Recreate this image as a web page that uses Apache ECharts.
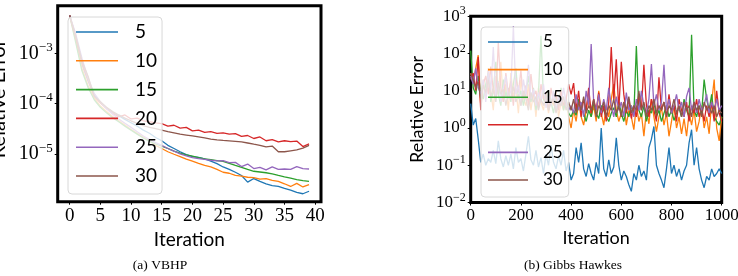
<!DOCTYPE html>
<html>
<head>
<meta charset="utf-8">
<script src="https://cdn.jsdelivr.net/npm/echarts@6/dist/echarts.min.js"></script>
<style>
  html, body { margin: 0; padding: 0; background: #fff; }
  #chart { width: 738px; height: 276px; }
</style>
</head>
<body>
<div id="chart"></div>
<script>
// legend names + matplotlib default colours
const NAMES = ['5', '10', '15', '20', '25', '30']
const COLORS = ['#1f77b4', '#ff7f0e', '#2ca02c', '#d62728', '#9467bd', '#8c564b']

// (a) VBHP : relative error per iteration
const VB_ITER = [0, 1, 2, 3, 4, 5, 6, 7, 8, 9, 10, 11, 12, 13, 14, 15, 16, 17, 18, 19,
  20, 21, 22, 23, 24, 25, 26, 27, 28, 29, 30, 31, 32, 33, 34, 35, 36, 37, 38, 39]
const vb5 = [5.6e-3, 2.1e-3, 6.0e-4, 2.8e-4, 1.5e-4, 1.05e-4, 8.2e-5, 6.8e-5, 5.8e-5, 4.9e-5,
  4.2e-5, 3.6e-5, 3.0e-5, 2.6e-5, 2.15e-5, 1.85e-5, 1.5e-5, 1.3e-5, 1.12e-5, 9.8e-6,
  9.0e-6, 8.7e-6, 8.1e-6, 7.3e-6, 6.5e-6, 5.6e-6, 5.0e-6, 4.4e-6, 3.8e-6, 2.8e-6,
  3.3e-6, 2.9e-6, 2.6e-6, 2.4e-6, 2.3e-6, 2.1e-6, 1.95e-6, 1.75e-6, 1.65e-6, 1.85e-6]
const vb10 = [5.6e-3, 1.8e-3, 5.0e-4, 2.3e-4, 1.3e-4, 9.0e-5, 7.0e-5, 5.6e-5, 4.6e-5, 3.8e-5,
  3.1e-5, 2.6e-5, 2.2e-5, 1.85e-5, 1.5e-5, 1.3e-5, 1.12e-5, 1.0e-5, 9.0e-6, 8.0e-6,
  7.3e-6, 6.6e-6, 6.0e-6, 5.6e-6, 5.0e-6, 4.4e-6, 4.2e-6, 3.8e-6, 3.7e-6, 3.5e-6,
  3.45e-6, 3.2e-6, 3.3e-6, 3.05e-6, 2.9e-6, 2.6e-6, 2.3e-6, 2.65e-6, 2.25e-6, 2.5e-6]
const vb15 = [5.6e-3, 1.6e-3, 4.5e-4, 2.1e-4, 1.2e-4, 8.5e-5, 6.6e-5, 5.3e-5, 4.4e-5, 3.6e-5,
  3.0e-5, 2.5e-5, 2.1e-5, 1.8e-5, 1.6e-5, 1.45e-5, 1.3e-5, 1.15e-5, 1.05e-5, 9.7e-6,
  9.2e-6, 8.6e-6, 8.1e-6, 7.8e-6, 7.5e-6, 7.2e-6, 6.6e-6, 6.0e-6, 5.5e-6, 5.0e-6,
  4.6e-6, 4.45e-6, 4.3e-6, 4.1e-6, 3.8e-6, 3.55e-6, 3.35e-6, 3.15e-6, 3.0e-6, 2.9e-6]
const vb20 = [5.6e-3, 2.0e-3, 6.5e-4, 3.0e-4, 1.4e-4, 1.05e-4, 8.0e-5, 6.5e-5, 5.5e-5, 6.0e-5,
  5.0e-5, 5.2e-5, 4.6e-5, 4.4e-5, 4.2e-5, 4.05e-5, 3.6e-5, 3.75e-5, 3.3e-5, 3.4e-5,
  2.9e-5, 3.0e-5, 2.7e-5, 2.8e-5, 2.6e-5, 2.65e-5, 2.5e-5, 2.55e-5, 2.25e-5, 2.35e-5,
  2.05e-5, 2.2e-5, 1.85e-5, 1.95e-5, 1.75e-5, 1.85e-5, 1.78e-5, 1.82e-5, 1.42e-5, 1.6e-5]
const vb25 = [5.6e-3, 2.4e-3, 8.0e-4, 3.2e-4, 1.6e-4, 1.1e-4, 8.0e-5, 6.2e-5, 5.0e-5, 4.1e-5,
  3.4e-5, 2.8e-5, 2.3e-5, 1.95e-5, 1.7e-5, 1.5e-5, 1.3e-5, 1.15e-5, 1.02e-5, 9.3e-6,
  8.6e-6, 8.2e-6, 7.9e-6, 7.6e-6, 7.4e-6, 7.5e-6, 6.8e-6, 6.9e-6, 5.7e-6, 6.4e-6,
  5.2e-6, 5.5e-6, 4.9e-6, 5.6e-6, 5.0e-6, 5.1e-6, 5.0e-6, 5.7e-6, 5.2e-6, 5.1e-6]
const vb30 = [5.6e-3, 2.2e-3, 7.0e-4, 3.5e-4, 1.4e-4, 1.1e-4, 8.5e-5, 7.0e-5, 6.0e-5, 5.2e-5,
  4.6e-5, 4.1e-5, 3.7e-5, 3.4e-5, 3.2e-5, 3.0e-5, 2.8e-5, 2.65e-5, 2.5e-5, 2.4e-5,
  2.3e-5, 2.2e-5, 2.1e-5, 2.0e-5, 1.93e-5, 1.88e-5, 1.84e-5, 1.8e-5, 1.75e-5, 1.67e-5,
  1.58e-5, 1.5e-5, 1.4e-5, 1.45e-5, 1.12e-5, 1.12e-5, 1.17e-5, 1.22e-5, 1.32e-5, 1.5e-5]
const VB_SERIES = [vb5, vb10, vb15, vb20, vb25, vb30]

// (b) Gibbs Hawkes : relative error, sampled every 10 iterations
const GH_ITER = [0, 10, 20, 30, 40, 50, 60, 70, 80, 90,
  100, 110, 120, 130, 140, 150, 160, 170, 180, 190,
  200, 210, 220, 230, 240, 250, 260, 270, 280, 290,
  300, 310, 320, 330, 340, 350, 360, 370, 380, 390,
  400, 410, 420, 430, 440, 450, 460, 470, 480, 490,
  500, 510, 520, 530, 540, 550, 560, 570, 580, 590,
  600, 610, 620, 630, 640, 650, 660, 670, 680, 690,
  700, 710, 720, 730, 740, 750, 760, 770, 780, 790,
  800, 810, 820, 830, 840, 850, 860, 870, 880, 890,
  900, 910, 920, 930, 940, 950, 960, 970, 980, 990, 1000]
const gh5 = [4.5, 1.2, 1.8, 0.5, 0.12, 0.2, 0.1, 0.15, 0.12, 0.25,
  0.11, 0.45, 0.15, 0.09, 0.18, 0.1, 0.2, 0.08, 0.3, 0.12,
  0.15, 0.07, 0.2, 0.6, 0.14, 0.1, 0.25, 0.09, 0.16, 0.06,
  0.2, 0.1, 0.35, 0.12, 0.08, 0.18, 0.1, 0.25, 0.07, 0.12,
  0.04, 0.06, 0.3, 0.12, 0.4, 0.08, 0.05, 0.11, 0.06, 0.04,
  0.12, 0.06, 1.0, 0.08, 0.05, 0.14, 0.06, 0.09, 0.55, 0.1,
  0.04, 0.07, 0.05, 0.03, 0.02, 0.06, 0.04, 0.1, 0.05, 0.07,
  0.04, 0.3, 0.5, 1.1, 0.1, 0.06, 0.04, 0.025, 0.08, 0.3,
  0.06, 0.1, 0.05, 0.08, 0.04, 0.07, 0.1, 0.4, 0.9, 0.1,
  0.3, 0.08, 0.04, 0.025, 0.05, 0.04, 0.08, 0.05, 0.06, 0.08, 0.06]
const gh10 = [30, 15, 40, 90, 4, 20, 6, 40, 10, 3,
  25, 8, 60, 5, 15, 3, 30, 7, 12, 2.5,
  20, 6, 4, 15, 3, 9, 2, 12, 5, 3,
  8, 2.5, 6, 4, 10, 2, 5, 3, 7, 2,
  1.0, 3, 1.5, 5, 2, 1.2, 3, 8, 2, 4,
  1.5, 10, 2.5, 1.2, 4, 2, 6, 15, 3, 1.5,
  2.5, 5, 1.2, 3, 2, 0.9, 4, 1.5, 2.5, 0.6,
  3, 1.3, 6, 2, 0.8, 2, 3.5, 1.2, 2.5, 0.6,
  1.5, 4, 1, 2, 0.7, 1.8, 0.6, 2.5, 1.2, 3,
  0.8, 1.5, 4, 1, 2, 0.7, 5, 20, 1, 0.45, 2]
const gh15 = [120, 12, 8, 25, 10, 6, 15, 30, 5, 10,
  60, 8, 4, 20, 7, 12, 5, 15, 40, 6,
  10, 4, 9, 25, 5, 12, 3, 8, 300, 6,
  4, 10, 5, 2.5, 7, 4, 12, 3, 6, 2.5,
  2, 3, 2.2, 6, 4, 2.5, 1.5, 3, 2, 5,
  2.5, 1.8, 4, 3, 2, 1.5, 2.5, 3.5, 2, 5,
  2.5, 1.5, 3, 2, 4, 2.2, 160, 3, 2, 4,
  1.5, 3, 2.5, 5, 2, 3, 1.5, 2.5, 4, 2,
  3, 1.6, 2.5, 3.5, 2, 6, 3, 2, 320, 3,
  2, 4, 2.5, 20, 6, 3, 8, 2, 1.5, 1.2, 2]
const gh20 = [20, 30, 10, 80, 3, 15, 25, 8, 45, 10,
  6, 200, 12, 5, 30, 8, 18, 4, 22, 9,
  35, 6, 14, 4, 28, 7, 10, 3.5, 15, 6,
  9, 3, 12, 5, 8, 3, 10, 4, 6, 15,
  8, 16, 3, 10, 2, 6, 3, 12, 2.5, 6,
  3, 9, 2, 4, 1.5, 5, 150, 6, 70, 3,
  60, 8, 2.5, 6, 1.8, 4, 2, 7, 3, 50,
  4, 2, 6, 3, 1.5, 23, 3, 5, 2, 8,
  2.5, 4, 1.5, 6, 3, 2, 5, 1.5, 4, 2.5,
  6, 2, 3.5, 1.5, 4, 2, 5, 1.5, 10, 2.5, 1.5]
const gh25 = [25, 15, 40, 12, 8, 20, 5, 35, 10, 150,
  7, 18, 5, 12, 25, 6, 10, 550, 8, 14,
  4, 20, 8, 50, 6, 11, 4, 9, 5, 15,
  3.5, 8, 4, 10, 3, 7, 4, 12, 5, 3,
  4, 2.5, 8, 3, 5, 2, 10, 4, 180, 5,
  3, 8, 2.5, 6, 3, 12, 4, 2, 7, 3,
  5, 2, 9, 3, 4, 2, 6, 3, 10, 4,
  2.5, 6, 52, 4, 8, 3, 5, 50, 3, 6,
  2.5, 4, 8, 3, 5, 2, 7, 12, 3, 5,
  2.5, 6, 3, 4, 8, 2.5, 5, 3, 6, 3, 4]
const gh30 = [30, 20, 12, 18, 6, 14, 9, 20, 7, 12,
  5, 16, 8, 11, 4, 9, 6, 13, 5, 8,
  4, 10, 6, 3, 9, 5, 7, 3, 6, 4,
  8, 3, 5, 6, 2.5, 5, 4, 7, 3, 5,
  3, 6, 2.5, 5, 3, 7, 2.5, 4, 3, 6,
  2, 4, 3, 5, 2, 4, 3, 6, 2.5, 4,
  2, 5, 3, 7, 2.5, 4, 3, 10, 3, 5,
  2, 4, 3, 6, 2.5, 4, 3, 5, 2, 4,
  3, 6, 2.5, 4, 2, 5, 3, 4, 2, 5,
  3, 4, 2, 5, 3, 4, 2.5, 4, 2, 3, 2.5]
const GH_SERIES = [gh5, gh10, gh15, gh20, gh25, gh30]

// tick positions (log10 exponents for the y axes)
const VB_XTICKS = [0, 5, 10, 15, 20, 25, 30, 35, 40]
const VB_YTICKS = [-5, -4, -3]

const SERIF = '"Liberation Serif", "Times New Roman", serif'
const SANS = 'Lato, sans-serif'

// 10^n label with superscript exponent
function pow10(v) {
  const n = Math.round(v)
  return '{b|10}{s|' + (n < 0 ? '\u2212' + (-n) : n) + '}'
}
function powRich(base, sup) {
  return {
    b: { fontFamily: SERIF, fontSize: base, color: '#000' },
    s: { fontFamily: SERIF, fontSize: sup, color: '#000', padding: [0, 0, Math.round(base * 0.6), 0] },
  }
}
// plain serif number labels (rich so the serif face is used)
function num(v) { return '{n|' + Math.round(v) + '}' }
function numRich(size) {
  return { n: { fontFamily: SERIF, fontSize: size, color: '#000' } }
}

function buildSeries(iters, list, axis) {
  return list.map((vals, k) => ({
    name: NAMES[k],
    type: 'line',
    xAxisIndex: axis,
    yAxisIndex: axis,
    symbol: 'none',
    silent: true,
    color: COLORS[k],
    lineStyle: { width: 1.3, color: COLORS[k] },
    data: iters.map((x, i) => [x, Math.log10(vals[i])]),
  }))
}

const chart = echarts.init(document.getElementById('chart'))

chart.setOption({
  animation: false,
  grid: [
    { left: 57.7, top: 5.8, width: 263.3, height: 195.9, outerBoundsMode: 'none', show: true, borderColor: '#000', borderWidth: 3, backgroundColor: 'transparent' },
    { left: 470.7, top: 16.3, width: 251, height: 186.2, outerBoundsMode: 'none', show: true, borderColor: '#000', borderWidth: 3, backgroundColor: 'transparent' },
  ],
  xAxis: [
    {
      type: 'value', gridIndex: 0, min: -1.95, max: 40.95,
      name: 'Iteration', nameLocation: 'middle', nameGap: 25,
      nameTextStyle: { fontFamily: SANS, fontSize: 19, color: '#000' },
      axisLine: { show: false, onZero: false },
      axisTick: { show: true, customValues: VB_XTICKS, length: 3, lineStyle: { color: '#000' } },
      axisLabel: { customValues: VB_XTICKS, formatter: num, rich: numRich(19), margin: 5 },
      splitLine: { show: false },
    },
    {
      type: 'value', gridIndex: 1, min: 0, max: 1000, interval: 200,
      name: 'Iteration', nameLocation: 'middle', nameGap: 24,
      nameTextStyle: { fontFamily: SANS, fontSize: 18, color: '#000' },
      axisLine: { show: false, onZero: false },
      axisTick: { show: true, length: 3, lineStyle: { color: '#000' } },
      axisLabel: { formatter: num, rich: numRich(17), margin: 5 },
      splitLine: { show: false },
    },
  ],
  yAxis: [
    {
      type: 'value', gridIndex: 0, min: -5.94, max: -2.06,
      name: 'Relative Error', nameLocation: 'middle', nameGap: 49,
      nameTextStyle: { fontFamily: SANS, fontSize: 20, color: '#000', padding: [0, 0, 0, 10] },
      axisLine: { show: false, onZero: false },
      axisTick: { show: true, customValues: VB_YTICKS, length: 3, lineStyle: { color: '#000' } },
      axisLabel: { customValues: VB_YTICKS, formatter: pow10, rich: powRich(20, 13), margin: 5 },
      splitLine: { show: false },
    },
    {
      type: 'value', gridIndex: 1, min: -2, max: 3, interval: 1,
      name: 'Relative Error', nameLocation: 'middle', nameGap: 45,
      nameTextStyle: { fontFamily: SANS, fontSize: 18, color: '#000' },
      axisLine: { show: false, onZero: false },
      axisTick: { show: true, length: 3, lineStyle: { color: '#000' } },
      axisLabel: { formatter: pow10, rich: powRich(17, 12), margin: 5 },
      splitLine: { show: false },
    },
  ],
  legend: [
    {
      data: NAMES, orient: 'vertical', left: 68, top: 17,
      icon: 'rect', itemWidth: 42, itemHeight: 1.6, itemGap: 8.8,
      padding: [5, 5, 8, 8],
      backgroundColor: 'rgba(255,255,255,0.8)', borderColor: '#d8d8d8', borderWidth: 1, borderRadius: 4,
      selectedMode: false,
      textStyle: { fontFamily: SANS, fontSize: 19, lineHeight: 20, color: '#000', padding: [0, 0, 0, 12] },
    },
    {
      data: NAMES, orient: 'vertical', left: 481, top: 27,
      icon: 'rect', itemWidth: 40, itemHeight: 1.6, itemGap: 7.6,
      padding: [5, 6, 7, 7],
      backgroundColor: 'rgba(255,255,255,0.8)', borderColor: '#d8d8d8', borderWidth: 1, borderRadius: 4,
      selectedMode: false,
      textStyle: { fontFamily: SANS, fontSize: 17, lineHeight: 20, color: '#000', padding: [0, 0, 0, 10] },
    },
  ],
  graphic: [
    { type: 'text', x: 160, y: 265, style: { text: '(a) VBHP', font: '13.5px "Liberation Serif"', fill: '#000', align: 'center', verticalAlign: 'middle' } },
    { type: 'text', x: 573, y: 265, style: { text: '(b) Gibbs Hawkes', font: '13.5px "Liberation Serif"', fill: '#000', align: 'center', verticalAlign: 'middle' } },
  ],
  series: [
    ...buildSeries(VB_ITER, VB_SERIES, 0),
    ...buildSeries(GH_ITER, GH_SERIES, 1),
  ],
})
</script>
</body>
</html>
